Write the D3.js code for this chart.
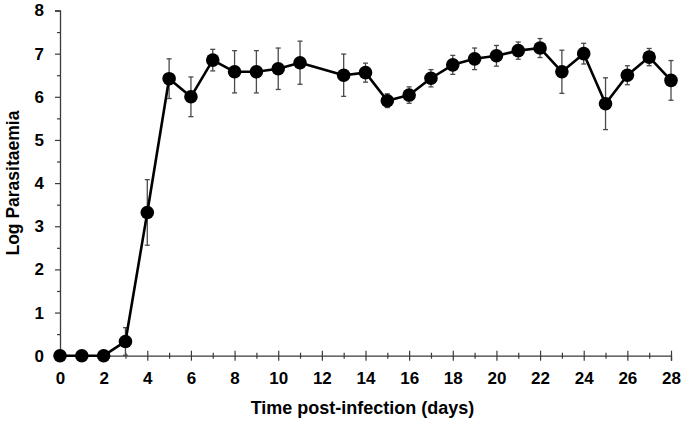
<!DOCTYPE html>
<html>
<head>
<meta charset="utf-8">
<script src="https://cdn.jsdelivr.net/npm/d3@7"></script>
<style>
  html, body { margin: 0; padding: 0; background: #fff; }
  svg { display: block; font-family: "Liberation Sans", Arial, sans-serif; }
</style>
</head>
<body>
<svg id="chart" width="682" height="422"></svg>
<script>
const days   = [0,1,2,3,4,5,6,7,8,9,10,11,13,14,15,16,17,18,19,20,21,22,23,24,25,26,27,28];
const means  = [0,0,0,0.33,3.32,6.42,6.00,6.85,6.58,6.58,6.65,6.79,6.50,6.56,5.91,6.04,6.43,6.74,6.88,6.95,7.07,7.13,6.58,7.00,5.84,6.50,6.92,6.38];
const errors = [0,0,0,0.32,0.76,0.46,0.46,0.25,0.49,0.49,0.48,0.50,0.49,0.22,0.16,0.19,0.20,0.22,0.25,0.24,0.20,0.22,0.50,0.24,0.60,0.22,0.20,0.46];
const xMajorTicks = [0,2,4,6,8,10,12,14,16,18,20,22,24,26,28];
const xMinorTicks = [1,3,5,7,9,11,13,15,17,19,21,23,25,27];
const yMajorTicks = [0,1,2,3,4,5,6,7,8];
const yMinorTicks = [0.5,1.5,2.5,3.5,4.5,5.5,6.5,7.5];
const xTitle = "Time post-infection (days)";
const yTitle = "Log Parasitaemia";

const data = days.map((d, i) => ({ day: d, mean: means[i], err: errors[i] }));

const svg = d3.select("#chart");
const mLeft = 60, mRight = 671, mTop = 10.5, mBottom = 355.7;

const x = d3.scaleLinear().domain([0, 28]).range([mLeft, mRight]);
const y = d3.scaleLinear().domain([0, 8]).range([mBottom, mTop]);

const axisColor = "#3a3a3a";

// Y axis (major)
const gy = svg.append("g").attr("transform", `translate(${mLeft},0)`)
  .call(d3.axisLeft(y).tickValues(yMajorTicks).tickFormat(d3.format("d")).tickSize(5).tickPadding(11));
// Y minor
const gym = svg.append("g").attr("transform", `translate(${mLeft},0)`)
  .call(d3.axisLeft(y).tickValues(yMinorTicks).tickFormat("").tickSize(3));
gym.select(".domain").remove();

// X axis (major)
const gx = svg.append("g").attr("transform", `translate(0,${mBottom})`)
  .call(d3.axisBottom(x).tickValues(xMajorTicks).tickFormat(d3.format("d")).tickSize(5).tickPadding(11));
gx.selectAll(".tick line").attr("y1", -5).attr("y2", 5);
// X minor
const gxm = svg.append("g").attr("transform", `translate(0,${mBottom})`)
  .call(d3.axisBottom(x).tickValues(xMinorTicks).tickFormat("").tickSize(3));
gxm.select(".domain").remove();
gxm.selectAll(".tick line").attr("y1", -3).attr("y2", 3);

[gy, gym, gx, gxm].forEach(g => {
  g.select(".domain").attr("stroke", axisColor).attr("stroke-width", 1.3);
  g.selectAll(".tick line").attr("stroke", axisColor).attr("stroke-width", 1.2);
  g.selectAll(".tick text").attr("fill", "#000").attr("font-size", 17).attr("font-weight", "bold")
    .attr("font-family", "'Liberation Sans', Arial, sans-serif");
});

// Error bars
const eb = svg.append("g").attr("stroke", "#4a4a4a").attr("stroke-width", 1.3);
data.filter(d => d.err > 0).forEach(d => {
  const cx = x(d.day), y1 = y(d.mean + d.err), y2 = y(d.mean - d.err);
  eb.append("line").attr("x1", cx).attr("x2", cx).attr("y1", y1).attr("y2", y2);
  eb.append("line").attr("x1", cx - 2.5).attr("x2", cx + 2.5).attr("y1", y1).attr("y2", y1);
  eb.append("line").attr("x1", cx - 2.5).attr("x2", cx + 2.5).attr("y1", y2).attr("y2", y2);
});

// Line
svg.append("path").datum(data)
  .attr("fill", "none").attr("stroke", "#000").attr("stroke-width", 2.6)
  .attr("stroke-linejoin", "round")
  .attr("d", d3.line().x(d => x(d.day)).y(d => y(d.mean)));

// Markers
svg.append("g").selectAll("circle").data(data).join("circle")
  .attr("cx", d => x(d.day)).attr("cy", d => y(d.mean)).attr("r", 6.8).attr("fill", "#000");

// Titles
svg.append("text").attr("x", (mLeft + mRight) / 2 - 3).attr("y", 414)
  .attr("text-anchor", "middle").attr("font-size", 18).attr("font-weight", "bold").text(xTitle);
svg.append("text").attr("transform", `translate(19,${(mTop + mBottom) / 2}) rotate(-90)`)
  .attr("text-anchor", "middle").attr("font-size", 17.5).attr("font-weight", "bold").text(yTitle);
</script>
</body>
</html>
